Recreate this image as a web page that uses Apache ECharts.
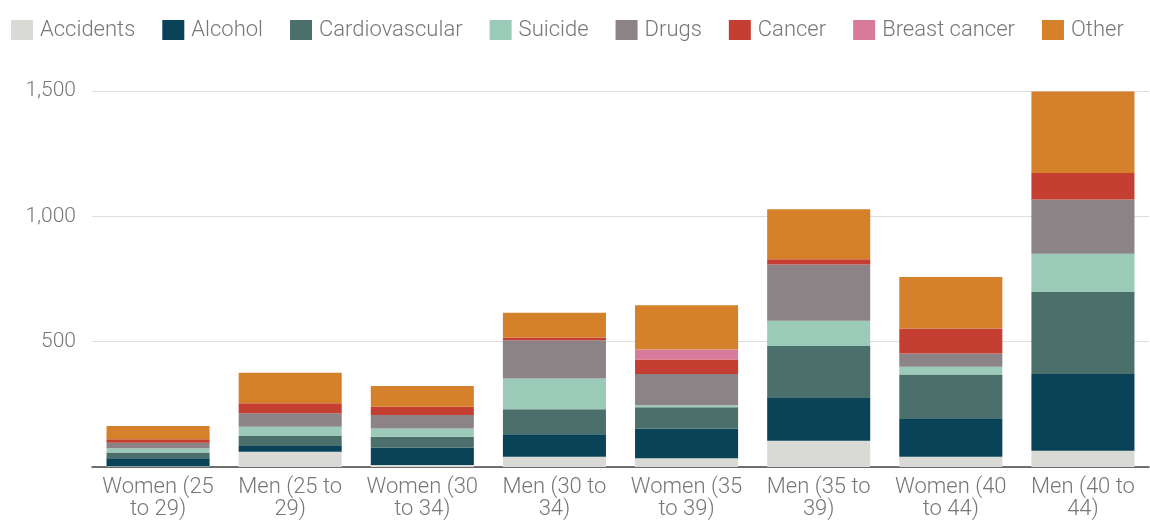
<!DOCTYPE html>
<html>
<head>
<meta charset="utf-8">
<script src="https://cdn.jsdelivr.net/npm/echarts@6/dist/echarts.min.js"></script>
<style>
  html, body { margin: 0; padding: 0; background: #fff; }
  #chart { width: 1150px; height: 527px; }
</style>
</head>
<body>
<div id="chart"></div>
<script>
const categories = [
  "Women (25\nto 29)", "Men (25 to\n29)", "Women (30\nto 34)", "Men (30 to\n34)",
  "Women (35\nto 39)", "Men (35 to\n39)", "Women (40\nto 44)", "Men (40 to\n44)"
];
// values per cause, one entry per category
const accidents     = [3, 61, 8, 41, 35, 105, 41, 65];
const alcohol       = [32, 23, 70, 90, 119, 173, 153, 306];
const cardiovascular = [23, 40, 43, 99, 84, 205, 175, 327];
const suicide       = [17, 37, 33, 123, 8, 100, 31, 153];
const drugs         = [22, 53, 53, 153, 125, 225, 53, 216];
const cancer        = [14, 40, 33, 11, 58, 21, 100, 106];
const breastCancer  = [0, 0, 0, 0, 40, 0, 0, 0];
const other         = [53, 122, 83, 98, 176, 199, 205, 325];
const yTicks = [0, 500, 1000, 1500];

const seriesDefs = [
  ["Accidents", accidents, "#d9d9d5"],
  ["Alcohol", alcohol, "#0a4358"],
  ["Cardiovascular", cardiovascular, "#4b6f6a"],
  ["Suicide", suicide, "#9bcab8"],
  ["Drugs", drugs, "#8b8386"],
  ["Cancer", cancer, "#c43e32"],
  ["Breast cancer", breastCancer, "#d87a9c"],
  ["Other", other, "#d5802b"]
];

const textColor = "#777";
const font = "Roboto";

const chart = echarts.init(document.getElementById("chart"));
chart.setOption({
  animation: false,
  textStyle: { fontFamily: font },
  legend: {
    left: 6,
    top: 14,
    icon: "rect",
    itemWidth: 22,
    itemHeight: 20,
    itemGap: 27,
    textStyle: { fontSize: 22, color: textColor, fontFamily: font, fontWeight: 300, padding: [0, 0, 0, 2] },
    data: seriesDefs.map(s => s[0])
  },
  grid: { left: 92, right: 1, top: 91, bottom: 60 },
  xAxis: {
    type: "category",
    data: categories,
    axisTick: { show: false },
    axisLine: { lineStyle: { color: "#444", width: 1.5 } },
    axisLabel: {
      color: textColor,
      fontSize: 22,
      fontWeight: 300,
      lineHeight: 22,
      margin: 9,
      interval: 0
    }
  },
  yAxis: {
    type: "value",
    min: yTicks[0],
    max: yTicks[yTicks.length - 1],
    interval: yTicks[1] - yTicks[0],
    axisLine: { show: false },
    axisTick: { show: false },
    axisLabel: {
      color: textColor,
      fontSize: 21,
      fontWeight: 300,
      margin: 16,
      formatter: v => v === 0 ? "" : v.toLocaleString("en-US")
    },
    splitLine: { lineStyle: { color: "#ddd" } }
  },
  series: seriesDefs.map(([name, data, color]) => ({
    name: name,
    type: "bar",
    stack: "total",
    data: data,
    barCategoryGap: "22%",
    itemStyle: { color: color }
  }))
});
</script>
</body>
</html>
